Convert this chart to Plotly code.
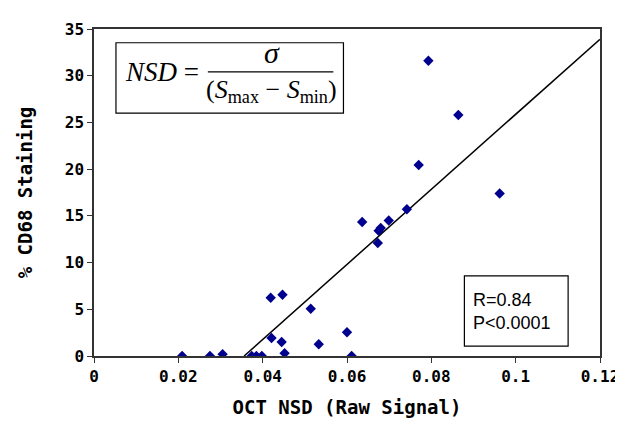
import plotly.graph_objects as go

# Data
nsd = [0.0209, 0.0275, 0.0305, 0.0374, 0.0385, 0.0398, 0.0419, 0.0421, 0.0445,
       0.0447, 0.0452, 0.0514, 0.0533, 0.0600, 0.0611, 0.0636, 0.0673, 0.0675,
       0.0680, 0.0699, 0.0742, 0.0770, 0.0793, 0.0864, 0.0962]
cd68 = [0.0, 0.0, 0.2, 0.0, 0.0, 0.0, 6.24, 1.92, 1.5,
        6.55, 0.3, 5.05, 1.25, 2.54, 0.0, 14.35, 12.1, 13.4,
        13.7, 14.5, 15.7, 20.45, 31.6, 25.8, 17.4]

trend_slope = 401.7
trend_intercept = -14.3

x_range = [0, 0.12]
x_dtick = 0.02
y_range = [0, 35]
y_dtick = 5

x_start = -trend_intercept / trend_slope
trend_x = [x_start, x_range[1]]
trend_y = [trend_slope * v + trend_intercept for v in trend_x]

fig = go.Figure()
fig.add_trace(go.Scatter(x=trend_x, y=trend_y, mode="lines",
                         line=dict(color="black", width=1.5), showlegend=False,
                         hoverinfo="skip"))
fig.add_trace(go.Scatter(x=nsd, y=cd68, mode="markers",
                         marker=dict(symbol="diamond", size=8, color="#00008f"),
                         showlegend=False))

mono = "DejaVu Sans Mono"
fig.update_layout(
    width=623, height=425,
    margin=dict(l=86, r=30, t=13, b=77),
    paper_bgcolor="white", plot_bgcolor="white",
    xaxis=dict(range=x_range, tickmode="linear", tick0=0, dtick=x_dtick,
               showgrid=False, zeroline=False, showline=True, linecolor="#333333",
               linewidth=1.5, mirror=True, ticks="outside", ticklen=5,
               tickcolor="#333333",
               tickfont=dict(family=mono, size=16, color="black", weight="bold"),
               title=dict(text="OCT NSD (Raw Signal)", standoff=16,
                          font=dict(family=mono, size=19, color="black", weight="bold"))),
    yaxis=dict(range=y_range, tickmode="linear", tick0=0, dtick=y_dtick,
               showgrid=False, zeroline=False, showline=True, linecolor="#333333",
               linewidth=1.5, mirror=True, ticks="outside", ticklen=5,
               tickcolor="#333333",
               tickfont=dict(family=mono, size=16, color="black", weight="bold"),
               title=dict(text="% CD68 Staining", standoff=27,
                          font=dict(family=mono, size=19, color="black", weight="bold"))),
)

# Equation box
fig.add_shape(type="rect", xref="paper", yref="paper", x0=0.0434, x1=0.493,
              y0=0.743, y1=0.958, line=dict(color="black", width=1.2),
              fillcolor="white", layer="below")
fig.add_shape(type="line", xref="paper", yref="paper", x0=0.225, x1=0.473,
              y0=0.869, y1=0.869, line=dict(color="black", width=1.2))
serif = "Liberation Serif"
fig.add_annotation(xref="paper", yref="paper", x=0.058, y=0.869, xanchor="left",
                   yanchor="middle", showarrow=False,
                   text="<i>NSD</i> =", font=dict(family=serif, size=27, color="black"))
fig.add_annotation(xref="paper", yref="paper", x=0.351, y=0.872, xanchor="center",
                   yanchor="bottom", showarrow=False,
                   text="<i>σ</i>", font=dict(family=serif, size=30, color="black"))
fig.add_annotation(xref="paper", yref="paper", x=0.351, y=0.866, xanchor="center",
                   yanchor="top", showarrow=False,
                   text="(<i>S</i><sub>max</sub> − <i>S</i><sub>min</sub>)",
                   font=dict(family=serif, size=26, color="black"))

# Statistics box
fig.add_shape(type="rect", xref="paper", yref="paper", x0=0.732, x1=0.937,
              y0=0.030, y1=0.245, line=dict(color="black", width=1.2),
              fillcolor="white")
fig.add_annotation(xref="paper", yref="paper", x=0.746, y=0.137, xanchor="left",
                   yanchor="middle", showarrow=False, align="left",
                   text="R=0.84<br>P<0.0001",
                   font=dict(family="Liberation Sans", size=18, color="black"))

fig.write_html("out.html")
